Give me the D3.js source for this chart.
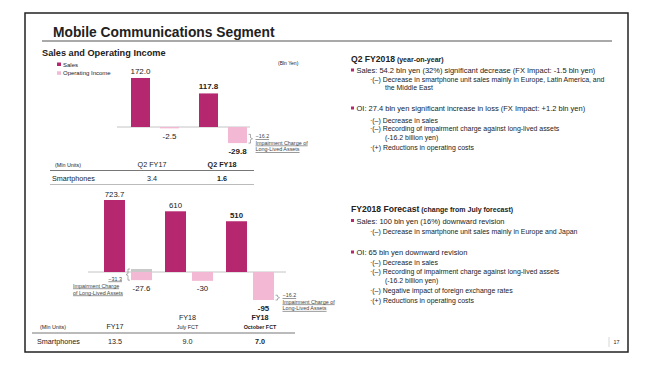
<!DOCTYPE html>
<html>
<head>
<meta charset="utf-8">
<script src="https://cdn.jsdelivr.net/npm/d3@7"></script>
<style>
  body { margin: 0; background: #fff; }
  text { font-family: Arial, "Liberation Sans", sans-serif; fill: #222; }
  .u { text-decoration: underline; fill: #444; }
</style>
</head>
<body>
<div id="wrapper"></div>
<script>
// Q2 year-on-year (bln yen, mln units)
const q2Categories = ["Q2 FY17", "Q2 FY18"]
const q2Sales = [172.0, 117.8]
const q2OI = [-2.5, -29.8]
const q2Impairment = [null, -16.2]
const q2Units = [3.4, 1.6]

// full year and forecasts
const fyCategories = ["FY17", "FY18", "FY18"]
const fySubLabels = ["", "July FCT", "October FCT"]
const fySales = [723.7, 610, 510]
const fyOI = [-27.6, -30, -95]
const fyImpairment = [-31.3, null, -16.2]
const fyUnits = [13.5, 9.0, 7.0]

const salesColor = "#b5286f"
const oiColor = "#f3b8d3"

const wrapper = d3.select("#wrapper")
  .append("svg")
    .attr("width", 660)
    .attr("height", 376)

// slide frame + title
wrapper.append("rect")
  .attr("x", 25).attr("y", 13)
  .attr("width", 603).attr("height", 339)
  .attr("fill", "none")
  .attr("stroke", "#222")
  .attr("stroke-width", 1.5)

wrapper.append("text")
  .attr("x", 53).attr("y", 37)
  .style("font-size", "13.8px").style("font-weight", "bold")
  .text("Mobile Communications Segment")

wrapper.append("line")
  .attr("x1", 42).attr("x2", 612)
  .attr("y1", 41).attr("y2", 41)
  .attr("stroke", "#555").attr("stroke-width", 1.2)

wrapper.append("text")
  .attr("x", 42).attr("y", 55.5)
  .style("font-size", "9.2px").style("font-weight", "bold")
  .text("Sales and Operating Income")

// legend
const legend = wrapper.append("g")
;[["Sales", salesColor, 64.5], ["Operating Income", oiColor, 73.3]].forEach(([label, color, y]) => {
  legend.append("rect")
    .attr("x", 57).attr("y", y - 2)
    .attr("width", 4).attr("height", 3.5)
    .attr("fill", color)
  legend.append("text")
    .attr("x", 63).attr("y", y + 2)
    .style("font-size", "6px").attr("fill", "#444")
    .text(label)
})

wrapper.append("text")
  .attr("x", 278).attr("y", 65)
  .style("font-size", "5px").attr("fill", "#444")
  .text("(Bln Yen)")

function bracketPath(x, y0, y1, dir) {
  // dir = 1 -> ticks point right, nub left
  const p = d3.path()
  const t = 2 * dir
  p.moveTo(x + t, y0)
  p.lineTo(x, y0)
  p.lineTo(x, (y0 + y1) / 2 - 1)
  p.lineTo(x - t, (y0 + y1) / 2)
  p.lineTo(x, (y0 + y1) / 2 + 1)
  p.lineTo(x, y1)
  p.lineTo(x + t, y1)
  return p.toString()
}

function drawBars(cfg) {
  const g = wrapper.append("g")
  const n = cfg.cats.length
  const idx = d3.range(n)

  const xGroup = d3.scaleBand()
    .domain(idx)
    .range(cfg.groupRange)
  const xSub = d3.scaleBand()
    .domain(["sales", "oi"])
    .range(cfg.subRange)
    .paddingInner(cfg.subPad)

  const ySales = d3.scaleLinear()
    .domain(cfg.salesDomain)
    .range([cfg.zeroY, cfg.salesTop])
  const yOI = d3.scaleLinear()
    .domain(cfg.oiDomain)
    .range([cfg.oiBottom, cfg.zeroY])

  const xs = i => xGroup(i) + xSub("sales")
  const xo = i => xGroup(i) + xSub("oi")
  const bw = xSub.bandwidth()

  g.append("line")
    .attr("x1", cfg.lineX[0]).attr("x2", cfg.lineX[1])
    .attr("y1", cfg.zeroY).attr("y2", cfg.zeroY)
    .attr("stroke", "#c4c4c4").attr("stroke-width", 1)

  g.selectAll(".sales")
    .data(idx)
    .enter().append("rect")
      .attr("x", xs)
      .attr("y", i => ySales(cfg.sales[i]))
      .attr("width", bw)
      .attr("height", i => ySales(0) - ySales(cfg.sales[i]))
      .attr("fill", salesColor)

  g.selectAll(".oi")
    .data(idx)
    .enter().append("rect")
      .attr("x", xo)
      .attr("y", yOI(0))
      .attr("width", bw)
      .attr("height", i => yOI(cfg.oi[i]) - yOI(0))
      .attr("fill", oiColor)

  // value labels
  g.selectAll(".sales-label")
    .data(idx)
    .enter().append("text")
      .attr("x", i => xs(i) + bw / 2)
      .attr("y", i => ySales(cfg.sales[i]) - cfg.labelGap)
      .attr("text-anchor", "middle")
      .style("font-size", cfg.valueSize)
      .style("font-weight", i => i == n - 1 ? "bold" : "normal")
      .text(i => cfg.salesFormat(cfg.sales[i]))

  g.selectAll(".oi-label")
    .data(idx)
    .enter().append("text")
      .attr("x", i => xo(i) + bw / 2)
      .attr("y", i => yOI(cfg.oi[i]) + 10.5)
      .attr("text-anchor", "middle")
      .style("font-size", cfg.valueSize)
      .style("font-weight", i => i == n - 1 ? "bold" : "normal")
      .text(i => String(cfg.oi[i]))

  // impairment notes
  idx.filter(i => cfg.imp[i] != null).forEach(i => {
    const before = cfg.oi[i] - cfg.imp[i]
    const yBot = yOI(cfg.oi[i])
    let yB0 = yOI(before)
    if (before > 0) {
      // operating income before the charge, drawn in grey above zero
      yB0 = Math.min(yOI(before), yOI(0) - 3)
      g.append("rect")
        .attr("x", xo(i)).attr("y", yB0)
        .attr("width", bw).attr("height", yOI(0) - yB0)
        .attr("fill", "#c9c9c9")
    }
    const left = i == 0
    const bx = left ? xo(i) - 3 : xo(i) + bw + 3.5
    g.append("path")
      .attr("d", bracketPath(bx, yB0, yBot, left ? 1 : -1))
      .attr("fill", "none")
      .attr("stroke", "#777")
      .attr("stroke-width", 0.6)

    const lines = left
      ? [d3.format(".1f")(cfg.imp[i]), "Impairment Charge", "of Long-Lived Assets"]
      : [d3.format(".1f")(cfg.imp[i]), "Impairment Charge of", "Long-Lived Assets"]
    const mid = (yB0 + yBot) / 2
    const ty = left ? mid + 6 : mid - 0.5
    const step = left ? 7 : 6.4
    lines.forEach((t, k) => {
      g.append("text")
        .attr("class", "u")
        .attr("x", left ? (k == 0 ? bx - 6 : bx - 55) : bx + 5)
        .attr("y", ty + k * step)
        .attr("text-anchor", left && k == 0 ? "end" : "start")
        .style("font-size", "5.4px")
        .text(t)
    })
  })
}

drawBars({
  cats: q2Categories, sales: q2Sales, oi: q2OI, imp: q2Impairment,
  groupRange: [121, 257], subRange: [10, 58], subPad: 0.345,
  zeroY: 127, salesDomain: [0, 200], salesTop: 70,
  oiDomain: [-40, 0], oiBottom: 148.6,
  lineX: [117, 250], labelGap: 4, valueSize: "8px",
  salesFormat: d3.format(".1f")
})

drawBars({
  cats: fyCategories, sales: fySales, oi: fyOI, imp: fyImpairment,
  groupRange: [98, 281], subRange: [6, 54], subPad: 0.222,
  zeroY: 272, salesDomain: [0, 800], salesTop: 192.4,
  oiDomain: [-100, 0], oiBottom: 301.5,
  lineX: [88, 286], labelGap: 3, valueSize: "7.8px",
  salesFormat: d => String(d)
})

// unit tables
const fmt1 = d3.format(".1f")

function drawTable(cfg) {
  const g = wrapper.append("g")
  const xCol = d3.scalePoint()
    .domain(d3.range(cfg.cats.length))
    .range(cfg.colRange)
  const last = cfg.cats.length - 1

  g.append("text")
    .attr("x", cfg.left + 3).attr("y", cfg.headY + (cfg.sub ? 9 : 0))
    .style("font-size", "5.4px").attr("fill", "#444")
    .text("(Mln Units)")

  cfg.cats.forEach((c, i) => {
    const hasSub = cfg.sub && cfg.sub[i]
    g.append("text")
      .attr("x", xCol(i)).attr("y", hasSub ? cfg.headY : cfg.headY + (cfg.sub ? 8.5 : 0))
      .attr("text-anchor", "middle")
      .style("font-size", "7.2px")
      .style("font-weight", i == last ? "bold" : "normal")
      .text(c)
    if (hasSub) {
      g.append("text")
        .attr("x", xCol(i)).attr("y", cfg.headY + 9)
        .attr("text-anchor", "middle")
        .style("font-size", "5.4px")
        .style("font-weight", i == last ? "bold" : "normal")
        .text(cfg.sub[i])
    }
    g.append("text")
      .attr("x", xCol(i)).attr("y", cfg.rowY)
      .attr("text-anchor", "middle")
      .style("font-size", "7.2px")
      .style("font-weight", i == last ? "bold" : "normal")
      .text(fmt1(cfg.units[i]))
  })

  g.append("text")
    .attr("x", cfg.left).attr("y", cfg.rowY)
    .style("font-size", "7.2px")
    .attr("fill", "#222")
    .text("Smartphones")

  g.append("line")
    .attr("x1", cfg.lineX[0]).attr("x2", cfg.lineX[1])
    .attr("y1", cfg.lineY).attr("y2", cfg.lineY)
    .attr("stroke", "#777").attr("stroke-width", 1)
  if (cfg.bottomY) {
    g.append("line")
      .attr("x1", cfg.lineX[0]).attr("x2", cfg.lineX[1])
      .attr("y1", cfg.bottomY).attr("y2", cfg.bottomY)
      .attr("stroke", "#aaa").attr("stroke-width", 0.8)
  }
}

drawTable({
  cats: q2Categories, units: q2Units, sub: null,
  colRange: [152, 222], left: 52, headY: 166.5, rowY: 181,
  lineX: [50, 254], lineY: 170.5, bottomY: 184.5
})

drawTable({
  cats: fyCategories, units: fyUnits, sub: fySubLabels,
  colRange: [115, 260], left: 37, headY: 320, rowY: 344,
  lineX: [32, 295], lineY: 333, bottomY: null
})

// commentary on the right
const q2Notes = [
  ["b", "Sales: 54.2 bln yen (32%) significant decrease (FX Impact: -1.5 bln yen)", 73],
  ["s", "·(–) Decrease in smartphone unit sales mainly in Europe, Latin America, and", 81.8],
  ["c", "the Middle East", 90],
  ["b", "OI: 27.4 bln yen significant increase in loss (FX Impact: +1.2 bln yen)", 111],
  ["s", "·(–) Decrease in sales", 122.5],
  ["s", "·(–) Recording of impairment charge against long-lived assets", 131],
  ["c", "(-16.2 billion yen)", 140],
  ["s", "·(+) Reductions in operating costs", 150]
]
const fyNotes = [
  ["b", "Sales: 100 bln yen (16%) downward revision", 223.5],
  ["s", "·(–) Decrease in smartphone unit sales mainly in Europe and Japan", 233.5],
  ["b", "OI: 65 bln yen downward revision", 255],
  ["s", "·(–) Decrease in sales", 265],
  ["s", "·(–) Recording of impairment charge against long-lived assets", 274],
  ["c", "(-16.2 billion yen)", 283],
  ["s", "·(–) Negative impact of foreign exchange rates", 293],
  ["s", "·(+) Reductions in operating costs", 303]
]

function drawNotes(title, subtitle, titleY, notes) {
  const g = wrapper.append("g")
  const head = g.append("text")
    .attr("x", 351).attr("y", titleY)
    .style("font-weight", "bold")
  head.append("tspan").style("font-size", "8.6px").text(title)
  head.append("tspan").style("font-size", "7px").text(" " + subtitle)

  notes.forEach(([type, text, y]) => {
    if (type == "b") {
      g.append("rect")
        .attr("x", 351).attr("y", y - 4.5)
        .attr("width", 3).attr("height", 3)
        .attr("fill", salesColor)
    }
    g.append("text")
      .attr("x", type == "b" ? 356.5 : type == "s" ? 370 : 385)
      .attr("y", y)
      .style("font-size", type == "b" ? "7.5px" : "6.95px")
      .attr("fill", type == "b" ? "#222" : "#333")
      .text(text)
  })
}

drawNotes("Q2 FY2018", "(year-on-year)", 61.5, q2Notes)
drawNotes("FY2018 Forecast", "(change from July forecast)", 212, fyNotes)

// page number
wrapper.append("line")
  .attr("x1", 609).attr("x2", 609)
  .attr("y1", 337).attr("y2", 347)
  .attr("stroke", "#ccc").attr("stroke-width", 0.8)
wrapper.append("text")
  .attr("x", 613.5).attr("y", 344)
  .style("font-size", "5.4px").attr("fill", "#444")
  .text("17")
</script>
</body>
</html>
